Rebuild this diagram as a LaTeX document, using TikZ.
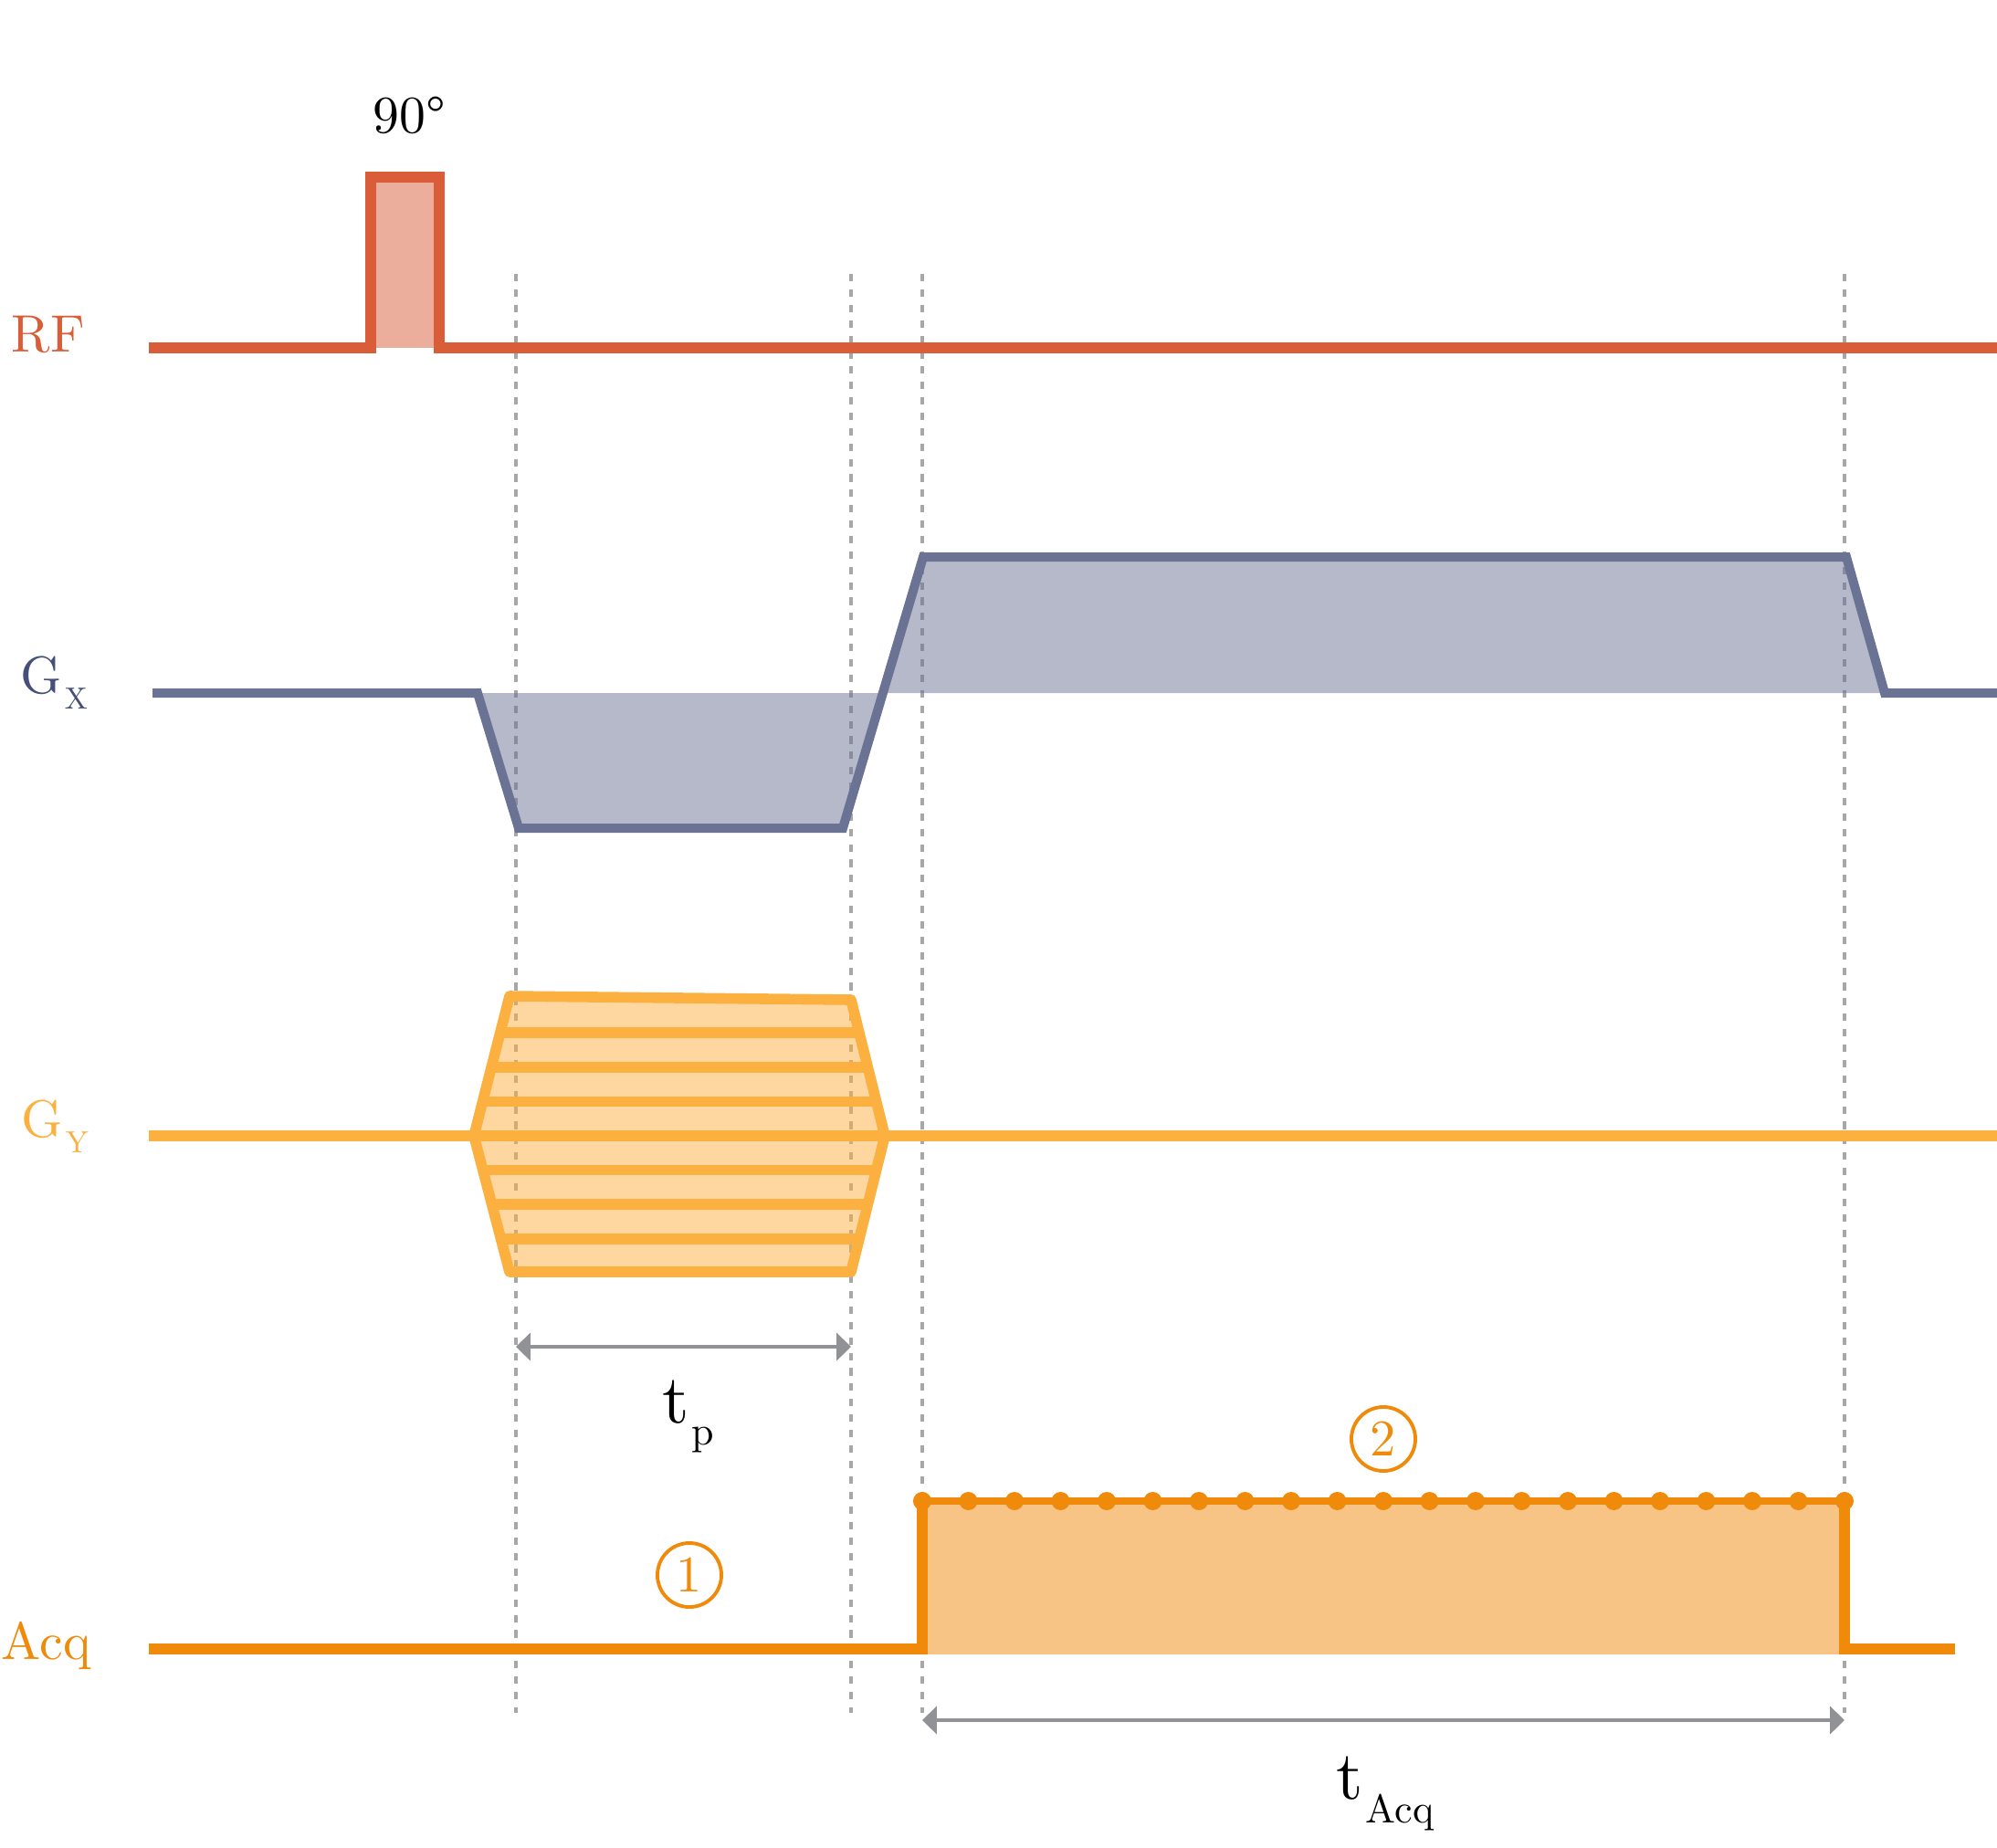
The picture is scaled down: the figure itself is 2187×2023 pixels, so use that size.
\documentclass[tikz,border=0pt]{standalone}
\usepackage{fontspec}
\setmainfont{lmroman10-regular.otf}
\usepackage{tikz}
\usetikzlibrary{arrows.meta,positioning}
\definecolor{cRF}{HTML}{D95D39}
\definecolor{cGx}{HTML}{6B7394}
\definecolor{cGxTxt}{HTML}{45507A}
\definecolor{cGy}{HTML}{FBB040}
\definecolor{cAcq}{HTML}{F08A0B}
\definecolor{cGuide}{HTML}{A7A7AA}
\definecolor{cSpan}{HTML}{909296}
\tikzset{
  lbl/.style={font=\fontsize{16.4}{20}\selectfont,inner sep=0pt,anchor=base west},
  tlbl/.style={font=\fontsize{21.5}{25}\selectfont,inner sep=0pt,anchor=base west},
  rfline/.style={line width=3.4pt,cRF,line join=miter},
  gxline/.style={line width=2.85pt,cGx,line join=miter},
  gyline/.style={line width=3.3pt,cGy,line join=round},
  acqline/.style={line width=3.4pt,cAcq,line join=miter},
  lobe/.style={fill opacity=.5},
  guide/.style={cGuide,line width=1.1pt,dash pattern=on 2.3pt off 2.5pt},
  span/.style={cSpan,line width=1.3pt,{Triangle[length=4.5pt,width=8.5pt]}-{Triangle[length=4.5pt,width=8.5pt]}},
  num/.style={circle,draw=cAcq,line width=1.1pt,text=cAcq,inner sep=0pt,minimum size=0.7cm,font=\fontsize{16}{19}\selectfont},
}

\begin{document}
\begin{tikzpicture}[x=0.01cm,y=-0.01cm]
  \useasboundingbox (0,0) rectangle (2187,2023);
  % timing guides
  \foreach \x in {565,932,1010,2020}
    \draw[guide] (\x,300) -- (\x,1876);
  % RF
  \node[lbl,cRF] (rfl) at (12,385) {RF};
  \node[font=\fontsize{16.4}{20}\selectfont,inner sep=0pt,anchor=base] (flip) at (448,145) {90\textdegree};
  \fill[cRF,lobe] (406,381) rectangle (481,194);
  \draw[rfline] (163,381) -- (406,381) -- (406,194) -- (481,194) -- (481,381) -- (2187,381);
  % readout gradient
  \node[lbl,cGxTxt] (gxl) at (22,759) {G\hspace{0.8pt}\raisebox{-5pt}{\fontsize{9.5}{10}\selectfont X}};
  \fill[cGx,lobe] (523,759) -- (568,907) -- (923,907) -- (968,759) -- cycle;
  \fill[cGx,lobe] (968,759) -- (1011,610) -- (2022,610) -- (2064,759) -- cycle;
  \draw[gxline] (167,759) -- (523,759) -- (568,907) -- (923,907) -- (1011,610) -- (2022,610) -- (2064,759) -- (2187,759);
  % phase encoding table
  \node[lbl,cGy] (gyl) at (23,1245) {G\hspace{0.8pt}\raisebox{-5pt}{\fontsize{9.5}{10}\selectfont Y}};
  \coordinate (h1) at (519,1244);
  \coordinate (h2) at (558,1091);
  \coordinate (h3) at (932,1095);
  \coordinate (h4) at (969,1244);
  \coordinate (h5) at (932,1393);
  \coordinate (h6) at (558,1393);
  \fill[cGy,lobe] (h1) -- (h2) -- (h3) -- (h4) -- (h5) -- (h6) -- cycle;
  \begin{scope}
    \clip (h1) -- (h2) -- (h3) -- (h4) -- (h5) -- (h6) -- cycle;
    \foreach \k in {-3,...,3}
      \draw[gyline] (500,{1244+\k*37.6}) -- (1000,{1244+\k*37.6});
  \end{scope}
  \draw[gyline] (163,1244) -- (2187,1244);
  \draw[gyline] (h1) -- (h2) -- (h3) -- (h4) -- (h5) -- (h6) -- cycle;
  % acquisition window
  \node[lbl,cAcq] (acql) at (1,1817) {Acq};
  \fill[cAcq,lobe] (1010,1644) rectangle (2020,1812);
  \draw[acqline] (163,1806) -- (1010,1806) -- (1010,1644);
  \draw[acqline] (2020,1644) -- (2020,1806) -- (2141,1806);
  \draw[cAcq,line width=2.3pt] (1010,1644) -- (2020,1644);
  \foreach \i in {0,...,20}
    \fill[cAcq] ({1010+\i*50.5},1644) circle[radius=2.85pt];
  \node[num] (one) at (755,1725) {1};
  \node[num] (two) at (1515,1576) {2};
  % durations
  \coordinate (tp0) at (565,1475);
  \coordinate (tp1) at (932,1475);
  \coordinate (ta0) at (1010,1884);
  \coordinate (ta1) at (2020,1884);
  \draw[span] (tp0) -- (tp1);
  \draw[span] (ta0) -- (ta1);
  \node[tlbl] (tpl) at (725,1558) {t\hspace{0.8pt}\raisebox{-7pt}{\fontsize{12.5}{14}\selectfont p}};
  \node[tlbl] (tal) at (1463,1970) {t\hspace{0.8pt}\raisebox{-7.4pt}{\fontsize{12.5}{14}\selectfont Acq}};
\end{tikzpicture}
\end{document}
